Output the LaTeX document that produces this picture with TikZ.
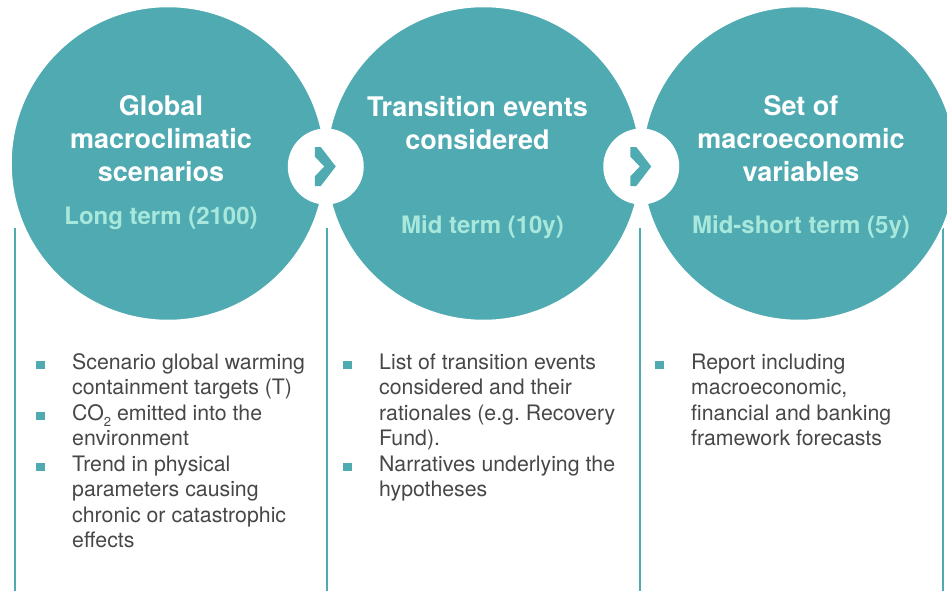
\documentclass[tikz,border=0pt]{standalone}
\usepackage{fontspec}
\setmainfont{TeX Gyre Heros}
\usetikzlibrary{positioning,calc}
\definecolor{StageClr}{HTML}{4FABB1}
\definecolor{TermClr}{HTML}{A8E8DC}
\definecolor{NoteClr}{HTML}{474747}
\newcommand{\sqbul}{\textcolor{StageClr}{\rule{8.5pt}{8.5pt}}}
\newcommand{\lowtwo}{\raisebox{-6pt}{\fontsize{13}{13}\selectfont 2}}

\begin{document}
\begin{tikzpicture}[x=1pt,y=-1pt,
  stage/.style={circle,fill=StageClr,draw=white,line width=1.5pt,minimum size=314pt,inner sep=0pt},
  linkdot/.style={circle,fill=white,minimum size=76pt,inner sep=0pt},
  headtxt/.style={text=white,font=\bfseries\fontsize{27}{33}\selectfont,align=center,inner sep=0pt},
  termtxt/.style={text=TermClr,font=\bfseries\fontsize{24}{28}\selectfont,inner sep=0pt},
  notetxt/.style={text=NoteClr,font=\fontsize{21.3}{25.5}\selectfont,anchor=north west,inner sep=0pt},
  colrule/.style={StageClr,line width=2.6pt}]
\useasboundingbox (0,0) rectangle (947,591);
\clip (0,0) rectangle (947,591);

\foreach \x in {15,327,640,943}
  \draw[colrule] (\x,228) -- (\x,591);

\node[stage] (c1) at (168,163.5) {};
\node[stage,right=0pt of c1] (c2) {};
\node[stage,right=0pt of c2] (c3) {};

\node[linkdot] (j1) at ($(c1)!.5!(c2)+(0,3)$) {};
\node[linkdot] (j2) at ($(c2)!.5!(c3)+(0,3)$) {};

\foreach \j in {j1,j2}
  \fill[StageClr,shift={(\j)}] (-11,-19.5) -- (-5,-19.5) -- (10,0) -- (-5,19.5)
    -- (-11,19.5) -- (-11,10) -- (-1.5,0) -- (-11,-10) -- cycle;

\node[headtxt,below=90pt of c1.north,xshift=-7pt] (h1) {Global\\macroclimatic\\scenarios};
\node[headtxt,below=90pt of c2.north,xshift=-6pt] (h2) {Transition events\\considered};
\node[headtxt,below=90pt of c3.north,xshift=2pt] (h3) {Set of\\macroeconomic\\variables};

\node[termtxt,below=201pt of c1.north,xshift=-7pt] (m1) {Long term (2100)};
\node[termtxt,below=210pt of c2.north,xshift=-1pt] (m2) {Mid term (10y)};
\node[termtxt,below=210pt of c3.north,xshift=2pt] (m3) {Mid-short term (5y)};

\node[notetxt] (n1) at (36,351) {\begin{tabular}{@{}l@{\hspace{27.5pt}}l@{}}
\sqbul & Scenario global warming\\
 & containment targets (T)\\
\sqbul & CO\lowtwo{} emitted into the\\
 & environment\\
\sqbul & Trend in physical\\
 & parameters causing\\
 & chronic or catastrophic\\
 & effects
\end{tabular}};
\node[notetxt] (n2) at (343,351) {\begin{tabular}{@{}l@{\hspace{27.5pt}}l@{}}
\sqbul & List of transition events\\
 & considered and their\\
 & rationales (e.g.\ Recovery\\
 & Fund).\\
\sqbul & Narratives underlying the\\
 & hypotheses
\end{tabular}};
\node[notetxt] (n3) at (655,351) {\begin{tabular}{@{}l@{\hspace{27.5pt}}l@{}}
\sqbul & Report including\\
 & macroeconomic,\\
 & financial and banking\\
 & framework forecasts
\end{tabular}};

\end{tikzpicture}
\end{document}
